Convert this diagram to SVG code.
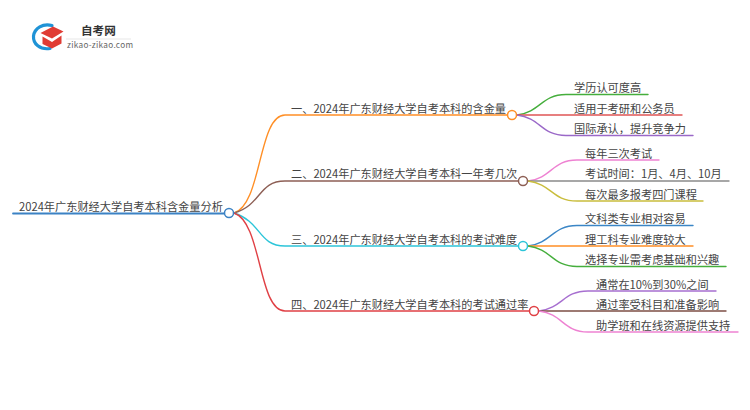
<svg xmlns="http://www.w3.org/2000/svg" width="750" height="410" viewBox="0 0 750 410">
<style>
text{font-family:"Noto Sans CJK SC","Noto Sans",sans-serif;font-size:11.2px;fill:#444}
.c{fill:none;stroke-width:1.4;stroke-linecap:round}
.n{fill:#fff;stroke-width:1.500}
</style>
<rect width="750" height="410" fill="#fff"/>
<g id="logo">
<path d="M52 25.500C43 23 34.500 28 33.500 36C33 44 40 50 50 48.500" fill="none" stroke="#1f93d6" stroke-width="3.200" stroke-linecap="round"/>
<path d="M40.500 33L53 26.500L63.500 31.500L52 38.500Z" fill="#e03c34"/>
<path d="M42.500 36.500L52 42L61.500 35.500V43.500L52 48.500L42.500 44Z" fill="#e03c34"/>
<text x="81" y="35" style="font-size:11.600px;font-weight:700;fill:#333">自考网</text>
<line x1="66" y1="39" x2="131" y2="39" stroke="#ddd" stroke-width="0.700"/>
<text x="67" y="48" style="font-size:8.200px;fill:#666;letter-spacing:0.300px">zikao-zikao.com</text>
</g>
<g id="connectors">
<path class="c" d="M13 213.500H229" stroke="#3b82c4" style="stroke-width:1.800"/>
<path class="c" stroke="#ff8f26" d="M234 213C262 205 258 115 285 115H512"/>
<path class="c" stroke="#8d5f55" d="M234 213C262 205 258 181 285 181H523"/>
<path class="c" stroke="#2cc5d9" d="M234 213C262 222 258 246 285 246H523"/>
<path class="c" stroke="#e04045" d="M234 213C262 222 258 311 285 311H534"/>
<path class="c" stroke="#45ae3c" d="M517 115C541 112 541 94.500 566 94.500H648"/>
<path class="c" stroke="#e05555" d="M517 115H682"/>
<path class="c" stroke="#9a68c8" d="M517 115C541 118 541 135.500 566 135.500H693"/>
<path class="c" stroke="#ee82d2" d="M528 181C552 178 552 160 577 160H659"/>
<path class="c" stroke="#8a8a8a" d="M528 181H729"/>
<path class="c" stroke="#c9bd3c" d="M528 181C552 184 552 201 577 201H703"/>
<path class="c" stroke="#3b86c6" d="M528 246C552 243 552 225.500 577 225.500H693"/>
<path class="c" stroke="#ff8f26" d="M528 246H693"/>
<path class="c" stroke="#45ae3c" d="M528 246C552 249 552 266.500 577 266.500H726"/>
<path class="c" stroke="#a76fd0" d="M539 311C563 308 563 291 588 291H716"/>
<path class="c" stroke="#7d4f45" d="M539 311H726"/>
<path class="c" stroke="#ee82d2" d="M539 311C563 314 563 332 588 332H738"/>
</g>
<g id="root"><circle class="n" cx="229" cy="213" r="4.500" stroke="#3b82c4"/><text x="19" y="211">2024年广东财经大学自考本科含金量分析</text></g>
<g id="b1"><circle class="n" cx="512" cy="115" r="4.500" stroke="#ff8f26"/><text x="291" y="112.500">一、2024年广东财经大学自考本科的含金量</text></g>
<g id="b2"><circle class="n" cx="523" cy="181" r="4.500" stroke="#8d5f55"/><text x="291" y="178">二、2024年广东财经大学自考本科一年考几次</text></g>
<g id="b3"><circle class="n" cx="523" cy="246" r="4.500" stroke="#2cc5d9"/><text x="291" y="243.500">三、2024年广东财经大学自考本科的考试难度</text></g>
<g id="b4"><circle class="n" cx="534" cy="311" r="4.500" stroke="#e04045"/><text x="291" y="308.500">四、2024年广东财经大学自考本科的考试通过率</text></g>
<g id="l11"><text x="574" y="92">学历认可度高</text></g>
<g id="l12"><text x="574" y="112.500">适用于考研和公务员</text></g>
<g id="l13"><text x="574" y="133">国际承认，提升竞争力</text></g>
<g id="l21"><text x="585" y="157.500">每年三次考试</text></g>
<g id="l22"><text x="585" y="178">考试时间：1月、4月、10月</text></g>
<g id="l23"><text x="585" y="198.500">每次最多报考四门课程</text></g>
<g id="l31"><text x="585" y="223">文科类专业相对容易</text></g>
<g id="l32"><text x="585" y="243.500">理工科专业难度较大</text></g>
<g id="l33"><text x="585" y="264">选择专业需考虑基础和兴趣</text></g>
<g id="l41"><text x="596" y="288.500">通常在10%到30%之间</text></g>
<g id="l42"><text x="596" y="308.500">通过率受科目和准备影响</text></g>
<g id="l43"><text x="596" y="329.500">助学班和在线资源提供支持</text></g>
</svg>
